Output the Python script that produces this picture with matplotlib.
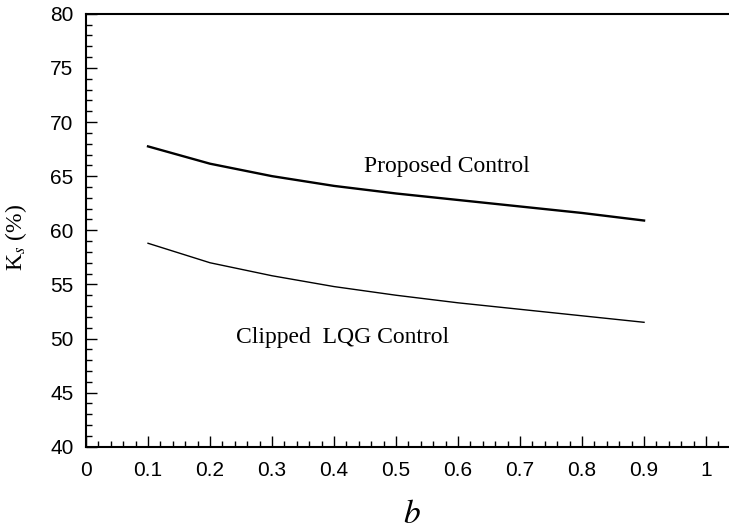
import matplotlib
matplotlib.use("Agg")
import matplotlib.pyplot as plt
from matplotlib.ticker import MultipleLocator, FuncFormatter

b_values = [0.1, 0.2, 0.3, 0.4, 0.5, 0.6, 0.7, 0.8, 0.9]
proposed = [67.75, 66.15, 65.0, 64.1, 63.4, 62.8, 62.2, 61.6, 60.9]
clipped = [58.8, 57.0, 55.8, 54.8, 54.0, 53.3, 52.7, 52.1, 51.5]
xtick_vals = [0, 0.1, 0.2, 0.3, 0.4, 0.5, 0.6, 0.7, 0.8, 0.9, 1.0]
ytick_vals = [40, 45, 50, 55, 60, 65, 70, 75, 80]

plt.rcParams['font.family'] = ['Liberation Sans', 'DejaVu Sans']
plt.rcParams['mathtext.fontset'] = 'stix'

fig = plt.figure(figsize=(7.29, 5.30), dpi=100)
ax = fig.add_axes([0.118, 0.157, 0.882, 0.817])

ax.plot(b_values, proposed, color='black', lw=1.7)
ax.plot(b_values, clipped, color='black', lw=1.0)

ax.set_xlim(0, 1.037)
ax.set_ylim(40, 80)
ax.set_xticks(xtick_vals)
ax.set_yticks(ytick_vals)
ax.xaxis.set_major_formatter(FuncFormatter(lambda v, p: f"{v:g}"))
ax.xaxis.set_minor_locator(MultipleLocator(0.02))
ax.yaxis.set_minor_locator(MultipleLocator(1))

ax.tick_params(which='both', direction='in', top=False, right=False, width=1.0, labelsize=15)
ax.tick_params(which='major', length=7.7)
ax.tick_params(which='minor', length=4)
ax.tick_params(axis='y', pad=9)
ax.tick_params(axis='x', pad=10)

for s in ['left', 'bottom', 'top']:
    ax.spines[s].set_linewidth(1.5)
ax.spines['right'].set_visible(False)

ax.text(0.582, 65.85, 'Proposed Control', family='Liberation Serif', fontsize=17,
        ha='center', va='center')
ax.text(0.413, 50.14, 'Clipped  LQG Control', family='Liberation Serif', fontsize=17,
        ha='center', va='center')

fig.text(16 / 729, 1 - 237 / 530, r'K$_{s}$ (%)', family='Liberation Serif', fontsize=17,
         rotation=90, ha='center', va='center')
ax.set_xlabel(r'$b$', fontsize=24)
ax.xaxis.set_label_coords(0.507, -0.12)

fig.savefig('out.png', dpi=100)
